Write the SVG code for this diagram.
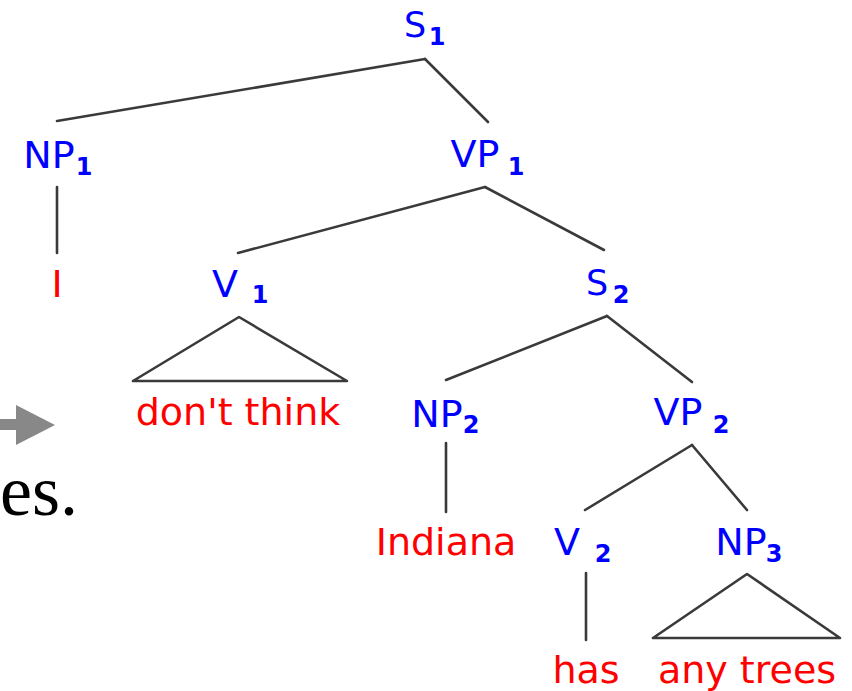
<svg xmlns="http://www.w3.org/2000/svg" width="852" height="691" viewBox="0 0 852 691">
<style>
.cat{font-family:"DejaVu Sans",Verdana,sans-serif;font-size:38px;fill:#0000ff;text-anchor:middle}
.s{font-size:35px}
.sub{font-family:"DejaVu Sans",Verdana,sans-serif;font-size:24px;font-weight:bold;fill:#0000ff;text-anchor:middle}
.word{font-family:"DejaVu Sans",Verdana,sans-serif;font-size:38px;fill:#ff0000;text-anchor:middle}
.edge{stroke:#3a3a3a;stroke-width:2.6;fill:none;stroke-linecap:round;stroke-linejoin:round}
</style>
<rect width="852" height="691" fill="#ffffff"/>
<g id="arrow">
<rect x="0" y="419" width="18" height="11" fill="#888888"/>
<polygon points="16,405 55,425 16,445" fill="#888888"/>
</g>
<text x="0" y="515" font-family="Liberation Serif,serif" font-size="72" fill="#000000">es.</text>
<g id="connectors">
<line class="edge" x1="57" y1="121" x2="425" y2="59"/>
<line class="edge" x1="425" y1="59" x2="488" y2="122"/>
<line class="edge" x1="57" y1="187" x2="57" y2="253"/>
<line class="edge" x1="485" y1="187" x2="238" y2="253"/>
<line class="edge" x1="485" y1="187" x2="604" y2="250"/>
<polygon class="edge" points="239,317 133,381 347,381"/>
<line class="edge" x1="607" y1="316" x2="446" y2="380"/>
<line class="edge" x1="607" y1="316" x2="692" y2="382"/>
<line class="edge" x1="446" y1="443" x2="446" y2="512"/>
<line class="edge" x1="692" y1="445" x2="585" y2="510"/>
<line class="edge" x1="692" y1="445" x2="747" y2="510"/>
<line class="edge" x1="586" y1="573" x2="586" y2="640"/>
<polygon class="edge" points="747,574 653,638 840,638"/>
</g>
<g id="S1"><text class="cat s" x="415" y="37">S</text><text class="sub" x="437" y="45">1</text></g>
<g id="NP1"><text class="cat" x="49" y="168">NP</text><text class="sub" x="84" y="175">1</text></g>
<g id="VP1"><text class="cat" x="475" y="167">VP</text><text class="sub" x="516" y="175">1</text></g>
<g id="I"><text class="word" x="57" y="297">I</text></g>
<g id="V1"><text class="cat" x="225" y="297">V</text><text class="sub" x="260" y="303">1</text></g>
<g id="S2"><text class="cat s" x="597" y="295">S</text><text class="sub" x="621" y="303">2</text></g>
<g id="dont-think"><text class="word" x="238" y="425">don't think</text></g>
<g id="NP2"><text class="cat" x="437" y="427">NP</text><text class="sub" x="471" y="433">2</text></g>
<g id="VP2"><text class="cat" x="678" y="425">VP</text><text class="sub" x="721" y="433">2</text></g>
<g id="Indiana"><text class="word" x="446" y="555">Indiana</text></g>
<g id="V2"><text class="cat" x="567" y="555">V</text><text class="sub" x="603" y="562">2</text></g>
<g id="NP3"><text class="cat" x="741" y="555">NP</text><text class="sub" x="774" y="562">3</text></g>
<g id="has"><text class="word" x="586" y="683">has</text></g>
<g id="any-trees"><text class="word" x="747" y="683">any trees</text></g>
</svg>
